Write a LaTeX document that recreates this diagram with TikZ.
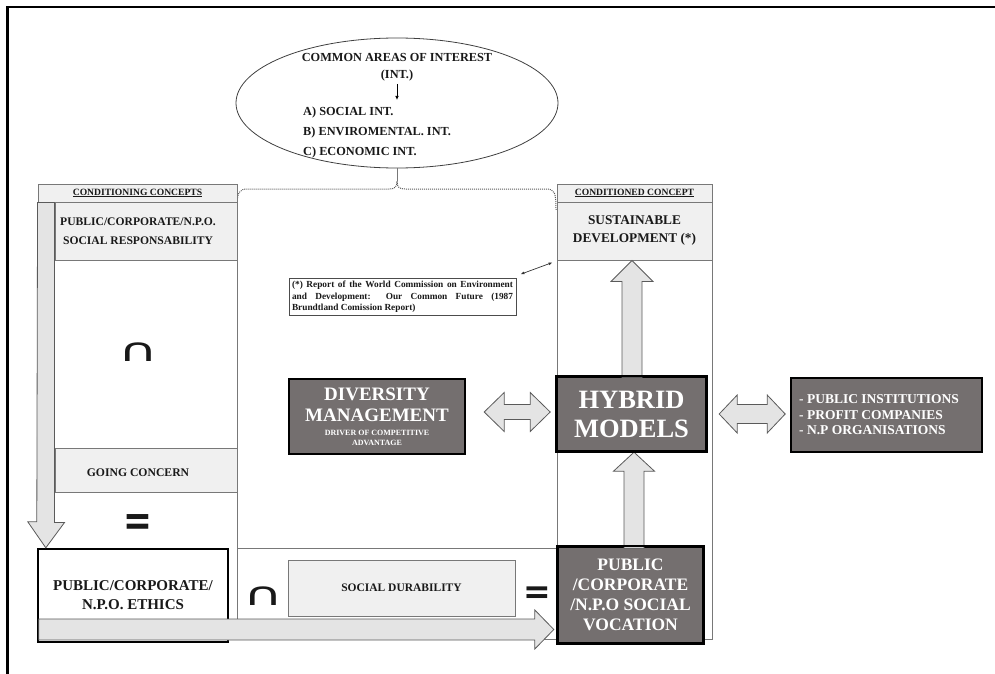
\documentclass[tikz,border=0pt]{standalone}
\usepackage{fontspec}
\setmainfont{Liberation Serif}
\newfontfamily\nohyph{Liberation Serif}[HyphenChar=None]
\newfontfamily\symfont{DejaVu Sans}
\usetikzlibrary{shapes.geometric,calc,arrows.meta}
\definecolor{darkbox}{RGB}{116,111,111}
\definecolor{lightbox}{RGB}{240,240,240}
\definecolor{arrowfill}{RGB}{228,228,228}
\definecolor{arrowline}{RGB}{90,90,90}
\definecolor{frameline}{RGB}{120,120,120}
\newcommand{\fsz}[2]{\fontsize{#1}{#2}\selectfont\bfseries}
\begin{document}
\begin{tikzpicture}[x=1pt,y=-1pt,
  frm/.style={draw=frameline,line width=0.9},
  box/.style={draw=frameline,line width=0.9,inner sep=0,align=center,text=black!90},
  lbox/.style={box,fill=lightbox},
  darknode/.style={draw=black,line width=2.4,fill=darkbox,text=white,inner sep=0,align=center},
  bigarrow/.style={draw=arrowline,fill=arrowfill,line width=0.8,line join=miter},
  txt/.style={inner sep=0,align=center,text=black!90},
  wtxt/.style={inner sep=0,align=center,text=white},
  symb/.style={inner sep=0,text=black!90,font=\symfont\bfseries\fontsize{30}{30}\selectfont},
  capsym/.style={inner sep=0,text=black!90,font=\symfont\fontsize{34}{34}\selectfont}]
\useasboundingbox (0,0) rectangle (995,674);

% outer frame
\draw[line width=2.2,line join=miter] (7.5,674) -- (7.5,7) -- (995,7);

% ellipse
\node[ellipse,draw=black!75,line width=0.8,minimum width=322,minimum height=130,inner sep=0] (ell) at (397,103) {};
\node[txt,font=\fsz{12.3}{14}] (e1) at (397,57) {COMMON AREAS OF INTEREST};
\node[txt,font=\fsz{12.3}{14}] (e2) at (397,76) {(INT.)};
\node[txt,font=\fsz{12.3}{20},align=left,anchor=north west] (e3) at (303,107) {A) SOCIAL INT.\\B) ENVIROMENTAL. INT.\\C) ECONOMIC INT.};
\draw[-{Latex[length=4,width=3.5]},line width=0.7] ([yshift=-2]e2.south) -- ([yshift=7]e2.south |- e3.north);

% dotted brace
\coordinate (bt) at (397,181);
\draw[draw=black!65,line width=1,densely dotted] (237,208) .. controls (237,192) and (239,189) .. (248,189) -- (389,189) .. controls (395,189) and (397,187) .. (bt) .. controls (397,187) and (399,189) .. (405,189) -- (546,189) .. controls (555,189) and (556,193) .. (556,210);
\draw[frm] (ell.south) -- (bt);

% frame lines of columns
\draw[frm] (237,184) -- (237,639) -- (712,639) -- (712,184);
\draw[frm] (557,184) -- (557,639);
\draw[frm] (237,548) -- (557,548);

% left column
\node[lbox,minimum width=199,minimum height=18,font=\fsz{9.6}{11}] (lh) at (137.5,193) {\underline{CONDITIONING CONCEPTS}};
\node[lbox,minimum width=182,minimum height=58] (lsr) at (146,231) {};
\node[txt,font=\fsz{11.6}{19}] (lsrt) at (138,231.5) {PUBLIC/CORPORATE/N.P.O.\\SOCIAL RESPONSABILITY};
\node[lbox,minimum width=182,minimum height=44] (gc) at (146,470) {};
\node[txt,font=\fsz{11.7}{13}] (gct) at (138,473) {GOING CONCERN};

% right column
\node[lbox,minimum width=155,minimum height=18,font=\fsz{9.6}{11}] (rh) at (634.5,193) {\underline{CONDITIONED CONCEPT}};
\node[lbox,minimum width=155,minimum height=58,font=\fsz{13.3}{18}] (sus) at (634.5,231) {SUSTAINABLE\\DEVELOPMENT (*)};

% report note
\node[draw=black!70,line width=0.9,fill=white,inner xsep=3,inner ysep=2.5,text width=221,align=justify,font=\nohyph\fsz{9.3}{11.5},text=black!90] (rep) at (402.5,297) {(*) Report of the World Commission on Environment and Development: Our Common Future (1987 Brundtland Comission Report)};
\draw[{Latex[length=4,width=3]}-{Latex[length=4,width=3]},line width=0.7,black!80] ($(rep.north east)+(4,-4)$) -- ($(sus.south west)+(-4,2)$);

% social durability
\node[lbox,minimum width=227,minimum height=56,font=\fsz{11.5}{13}] (sd) at (401.5,588) {SOCIAL DURABILITY};

% ethics
\node[draw=black,line width=2.4,fill=white,minimum width=190,minimum height=93,inner sep=0,align=center,font=\fsz{15}{19},text=black!90] (eth) at (133,595.5) {PUBLIC/CORPORATE/\\N.P.O. ETHICS};

% symbols
\node[capsym] (cap1) at (138,352) {\scalebox{1.6}[0.95]{∩}};
\node[capsym] (cap2) at (263,596) {\scalebox{1.6}[0.95]{∩}};
\node[symb] (eq1) at (138,525.5) {\scalebox{1.15}[1.45]{=}};
\node[symb] (eq2) at (537,595) {\scalebox{1.1}[1.15]{=}};

% dark boxes
\node[darknode,minimum width=149,minimum height=74,font=\fsz{26.5}{29}] (hyb) at (631.5,414) {HYBRID\\MODELS};
\node[darknode,minimum width=145,minimum height=96,font=\fsz{17.5}{20}] (voc) at (630.5,595) {PUBLIC\\/CORPORATE\\/N.P.O SOCIAL\\VOCATION};
\node[darknode,minimum width=191,minimum height=74] (rb) at (886.5,415) {};
\node[wtxt,anchor=west,align=left,font=\fsz{13.5}{15.5}] (rbt) at (799,415) {- PUBLIC INSTITUTIONS\\- PROFIT COMPANIES\\- N.P ORGANISATIONS};
\node[darknode,minimum width=176,minimum height=75] (div) at (377,416.5) {};
\node[wtxt,font=\fsz{19}{21}] (dv1) at (377,394) {DIVERSITY};
\node[wtxt,font=\fsz{19}{21}] (dv2) at (377,415) {MANAGEMENT};
\node[wtxt,font=\fsz{8}{10}] (dv3) at (377,438) {DRIVER OF COMPETITIVE\\ADVANTAGE};

% big arrows
\coordinate (lat) at ($(eth.north west)+(9,0)$);
\draw[bigarrow] (lh.south west) -- ++(17,0) -- ++(0,320) -- ++(10,0) -- (lat) -- ++(-18,-26) -- ++(9,0) -- cycle;

\coordinate (bat) at ($(voc.west)+(-3,34.5)$);
\draw[bigarrow] (bat) -- ++(-19,-19.5) -- ++(0,9) -- ++(-496,0) -- ++(0,21) -- ++(496,0) -- ++(0,9) -- cycle;

\coordinate (ua) at ($(hyb.south)+(2.5,0)$);
\draw[bigarrow] (ua) -- ++(20.5,19) -- ++(-10.5,0) -- ++(0,77) -- ++(-20,0) -- ++(0,-77) -- ++(-10.5,0) -- cycle;

\coordinate (ub) at ($(sus.south)+(-2.5,0)$);
\draw[bigarrow] (ub) -- ++(21,21) -- ++(-11,0) -- ++(0,96) -- ++(-20,0) -- ++(0,-96) -- ++(-11,0) -- cycle;

\coordinate (da) at ($(div.east)+(18,-4.5)$);
\draw[bigarrow] (da) -- ++(20,-19.5) -- ++(0,12) -- ++(26,0) -- ++(0,-12) -- ++(20,19.5) -- ++(-20,19.5) -- ++(0,-12) -- ++(-26,0) -- ++(0,12) -- cycle;

\coordinate (db) at ($(hyb.east)+(12,0)$);
\draw[bigarrow] (db) -- ++(18,-19) -- ++(0,9.5) -- ++(30,0) -- ++(0,-9.5) -- ++(18,19) -- ++(-18,19) -- ++(0,-9.5) -- ++(-30,0) -- ++(0,9.5) -- cycle;

% redraw dark box borders over arrow ends
\draw[draw=black,line width=2.4] (hyb.north west) rectangle (hyb.south east);
\draw[draw=black,line width=2.4] (voc.north west) rectangle (voc.south east);
\end{tikzpicture}
\end{document}
